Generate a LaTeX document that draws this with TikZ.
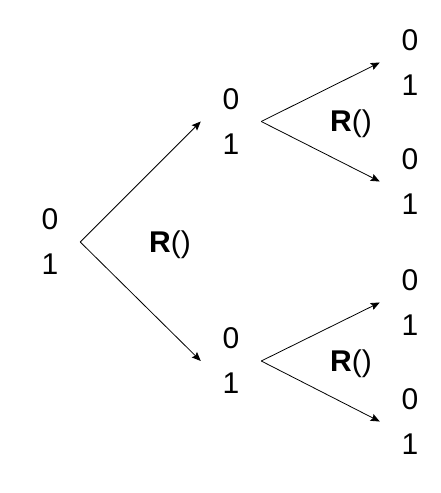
\documentclass[tikz,border=0pt]{standalone}
\usepackage{fontspec}
\setmainfont{Liberation Sans}
\usetikzlibrary{arrows.meta}
\begin{document}
\begin{tikzpicture}[x=1pt,y=-1pt,
  pair/.style={align=center,inner ysep=0pt,inner xsep=21.7pt,
    font=\fontsize{30}{45}\selectfont},
  lbl/.style={inner sep=0pt,font=\fontsize{30}{36}\selectfont},
  arr/.style={-{Stealth[length=9pt,width=7.5pt,inset=1.5pt]},line width=0.8pt}]
\useasboundingbox (0,0) rectangle (440,493);
\node[pair] (L) at (50,242) {0\\1};
\node[pair] (MU) at (231,121.5) {0\\1};
\node[pair] (ML) at (231,361) {0\\1};
\node[pair] (RU1) at (410,62.5) {0\\1};
\node[pair] (RU2) at (410,181.5) {0\\1};
\node[pair] (RL1) at (410,302.5) {0\\1};
\node[pair] (RL2) at (410,421.5) {0\\1};
\node[lbl] (R0) at (170,245) {\textbf{R}()};
\node[lbl] (R1) at (351,124) {\textbf{R}()};
\node[lbl] (R2) at (351,364) {\textbf{R}()};
\draw[arr] (L.east) -- (MU.west);
\draw[arr] (L.east) -- (ML.west);
\draw[arr] (MU.east) -- (RU1.west);
\draw[arr] (MU.east) -- (RU2.west);
\draw[arr] (ML.east) -- (RL1.west);
\draw[arr] (ML.east) -- (RL2.west);
\end{tikzpicture}
\end{document}
